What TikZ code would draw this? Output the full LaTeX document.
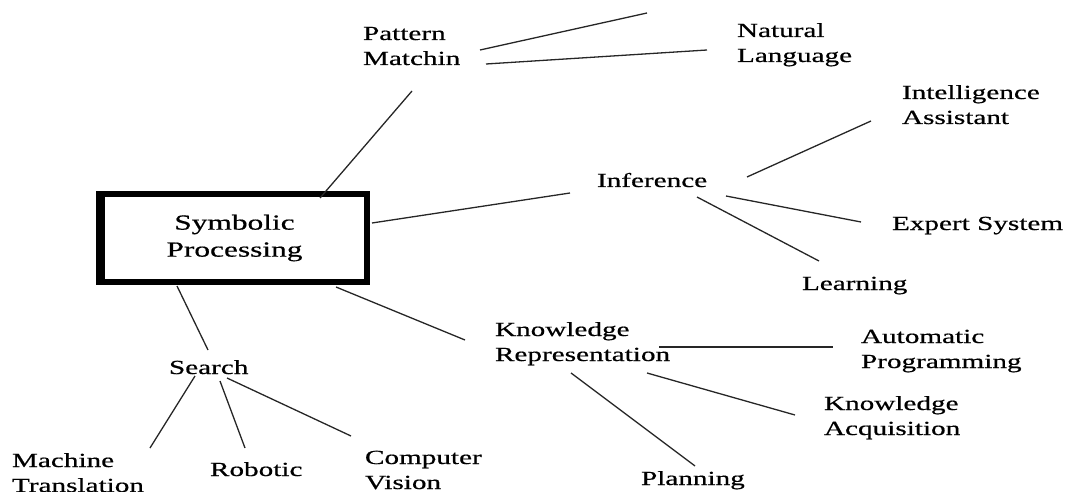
\documentclass[tikz,border=0pt]{standalone}
\usepackage{fontspec}
\setmainfont{Liberation Serif}[FakeStretch=1.46,FakeBold=0.6]
\usetikzlibrary{calc}
% two left-aligned lines, baseline on the first line
\newcommand\twolines[2]{\begin{tabular}[t]{@{}l@{}}#1\\#2\end{tabular}}
\tikzset{
  lbl/.style={inner sep=0pt, outer sep=0pt, anchor=base west,
    font=\fontsize{20}{25}\selectfont},
  rootbox/.style={draw=black, line width=6pt, minimum width=265pt,
    minimum height=87pt, inner sep=0pt, align=center,
    font=\fontsize{21.5}{27}\selectfont},
  link/.style={draw=black!85, line width=1.3pt}
}
\begin{document}
\begin{tikzpicture}[x=1pt,y=-1pt]
\useasboundingbox (0,0) rectangle (1072,492);

% root
\node[rootbox] (sp) at (234.5,238) {Symbolic\\Processing};
% heavier left edge of the frame
\draw[line width=3pt] ([xshift=-1.5pt]sp.north west) -- ([xshift=-1.5pt]sp.south west);

% first level
\node[lbl] (pm)   at (363,40)  {\twolines{Pattern}{Matchin}};
\node[lbl] (inf)  at (597,187) {Inference};
\node[lbl] (srch) at (169,374) {Search};
\node[lbl] (kr)   at (495,336) {\twolines{Knowledge}{Representation}};

% leaves
\node[lbl] (nl)  at (737,37)  {\twolines{Natural}{Language}};
\node[lbl] (ia)  at (902,99)  {\twolines{Intelligence}{Assistant}};
\node[lbl] (es)  at (892,230) {Expert System};
\node[lbl] (lrn) at (802,290) {Learning};
\node[lbl] (ap)  at (861,343) {\twolines{Automatic}{Programming}};
\node[lbl] (ka)  at (824,410) {\twolines{Knowledge}{Acquisition}};
\node[lbl] (pl)  at (641,485) {Planning};
\node[lbl] (mt)  at (12,467)  {\twolines{Machine}{Translation}};
\node[lbl] (rob) at (210,476) {Robotic};
\node[lbl] (cv)  at (365,464) {\twolines{Computer}{Vision}};

% branch leaving the top edge
\coordinate (cut) at (647,13);

% connectors
\draw[link] ($(sp.center)+(85.5,-40)$) -- ($(pm.base west)+(49,51)$);
\draw[link] ($(pm.base west)+(117,10)$) -- (cut);
\draw[link] ($(pm.base west)+(123,24)$) -- ($(nl.base west)+(-30,13)$);
\draw[link] ($(sp.center)+(137.5,-15)$) -- ($(inf.base west)+(-27,6)$);
\draw[link] ($(inf.base west)+(150,-10)$) -- ($(ia.base west)+(-31,22)$);
\draw[link] ($(inf.base west)+(129,9)$) -- ($(es.base west)+(-31,-8)$);
\draw[link] ($(inf.base west)+(100,10)$) -- ($(lrn.base west)+(17,-29)$);
\draw[link] ($(sp.center)+(-57.5,48)$) -- ($(srch.base west)+(39,-24)$);
\draw[link] ($(sp.center)+(101.5,49)$) -- ($(kr.base west)+(-30,4)$);
\draw[link] ($(srch.base west)+(26,2)$) -- ($(mt.base west)+(138,-19)$);
\draw[link] ($(srch.base west)+(51,7)$) -- ($(rob.base west)+(35,-28)$);
\draw[link] ($(srch.base west)+(58,4)$) -- ($(cv.base west)+(-14,-28)$);
\draw[link] ($(kr.base west)+(164,11)$) -- ($(ap.base west)+(-28,4)$);
\draw[link] ($(kr.base west)+(152,37)$) -- ($(ka.base west)+(-29,5)$);
\draw[link] ($(kr.base west)+(76,37)$) -- ($(pl.base west)+(54,-19)$);
\end{tikzpicture}
\end{document}
